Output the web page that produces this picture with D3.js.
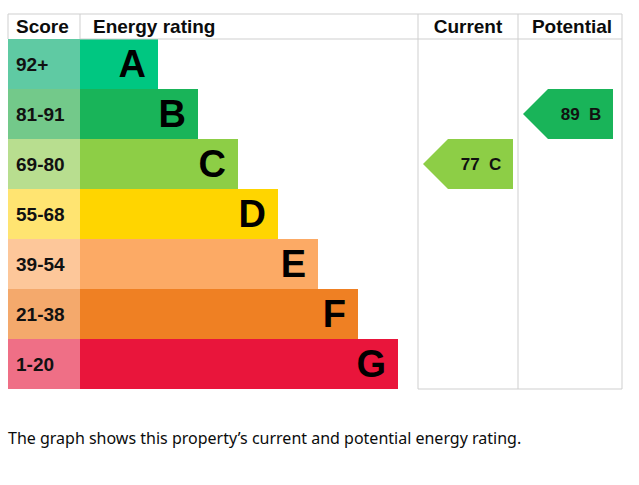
<!DOCTYPE html>
<html>
<head>
<script src="https://cdn.jsdelivr.net/npm/d3@7"></script>
<style>body{margin:0;background:#fff;font-family:Arial,"Liberation Sans",sans-serif;}</style>
</head>
<body>
<svg id="epc"></svg>
<script>
var bands = ["A", "B", "C", "D", "E", "F", "G"];
var scores = ["92+", "81-91", "69-80", "55-68", "39-54", "21-38", "1-20"];
var colors = ["#00c781", "#19b459", "#8dce46", "#ffd500", "#fcaa65", "#ef8023", "#e9153b"];
var scoreColors = ["#5fcaa3", "#73c98a", "#b8de8f", "#ffe471", "#fdc79a", "#f4a96c", "#ef6f86"];
var current = {value: 77, band: "C"};
var potential = {value: 89, band: "B"};

var width = 639, height = 485;
var svg = d3.select("#epc").attr("width", width).attr("height", height);

// rows and bar lengths
var y = d3.scaleBand().domain(bands).range([39, 389]);
var len = d3.scaleLinear().domain([0, 6]).range([158, 398]);
var grid = "#cfcfcf";

// score column
svg.selectAll(".score").data(bands).enter().append("rect")
  .attr("x", 8).attr("y", function(d) { return y(d); })
  .attr("width", 72).attr("height", y.bandwidth())
  .attr("fill", function(d, i) { return scoreColors[i]; });
svg.selectAll(".scoretxt").data(scores).enter().append("text")
  .attr("x", 16).attr("y", function(d, i) { return y(bands[i]) + y.bandwidth() / 2 + 7; })
  .attr("font-size", 19).attr("font-weight", "bold").attr("fill", "#111")
  .text(function(d) { return d; });

// bars
svg.selectAll(".bar").data(bands).enter().append("rect")
  .attr("x", 80).attr("y", function(d) { return y(d); })
  .attr("width", function(d, i) { return len(i) - 80; }).attr("height", y.bandwidth())
  .attr("fill", function(d, i) { return colors[i]; });
svg.selectAll(".bartxt").data(bands).enter().append("text")
  .attr("x", function(d, i) { return len(i) - 12; })
  .attr("y", function(d) { return y(d) + y.bandwidth() / 2 + 13; })
  .attr("text-anchor", "end").attr("font-size", 38).attr("font-weight", "bold").attr("fill", "#000")
  .text(function(d) { return d; });

// grid lines
[[8, 14, 622, 14], [80, 39, 622, 39], [418, 389, 622, 389]].forEach(function(l) {
  svg.append("line").attr("x1", l[0]).attr("y1", l[1]).attr("x2", l[2]).attr("y2", l[3]).attr("stroke", grid);
});
[[8, 14, 39], [80, 14, 39], [418, 14, 389], [518, 14, 389], [622, 14, 389]].forEach(function(l) {
  svg.append("line").attr("x1", l[0]).attr("y1", l[1]).attr("x2", l[0]).attr("y2", l[2]).attr("stroke", grid);
});

// headers
[["Score", 16, "start"], ["Energy rating", 93, "start"], ["Current", 468, "middle"], ["Potential", 572, "middle"]].forEach(function(h) {
  svg.append("text").attr("x", h[1]).attr("y", 33).attr("text-anchor", h[2])
    .attr("font-size", 19).attr("font-weight", "bold").attr("fill", "#0b0c0c").text(h[0]);
});

// arrows
function arrow(r, x0) {
  var i = bands.indexOf(r.band);
  var top = y(r.band), h = y.bandwidth(), w = 90, tip = 25;
  svg.append("path")
    .attr("d", "M" + x0 + "," + (top + h / 2) + "L" + (x0 + tip) + "," + top + "L" + (x0 + w) + "," + top +
      "L" + (x0 + w) + "," + (top + h) + "L" + (x0 + tip) + "," + (top + h) + "Z")
    .attr("fill", colors[i]);
  svg.append("text").attr("x", x0 + tip + 33).attr("y", top + h / 2 + 6).attr("text-anchor", "middle")
    .attr("font-size", 17).attr("font-weight", "bold").attr("fill", "#111")
    .attr("xml:space", "preserve").text(r.value + "  " + r.band);
}
arrow(current, 423);
arrow(potential, 523);

svg.append("text").attr("x", 8).attr("y", 444).attr("font-family", "'Noto Sans', sans-serif")
  .attr("font-size", 16).attr("fill", "#0b0c0c")
  .text("The graph shows this property\u2019s current and potential energy rating.");
</script>
</body>
</html>
